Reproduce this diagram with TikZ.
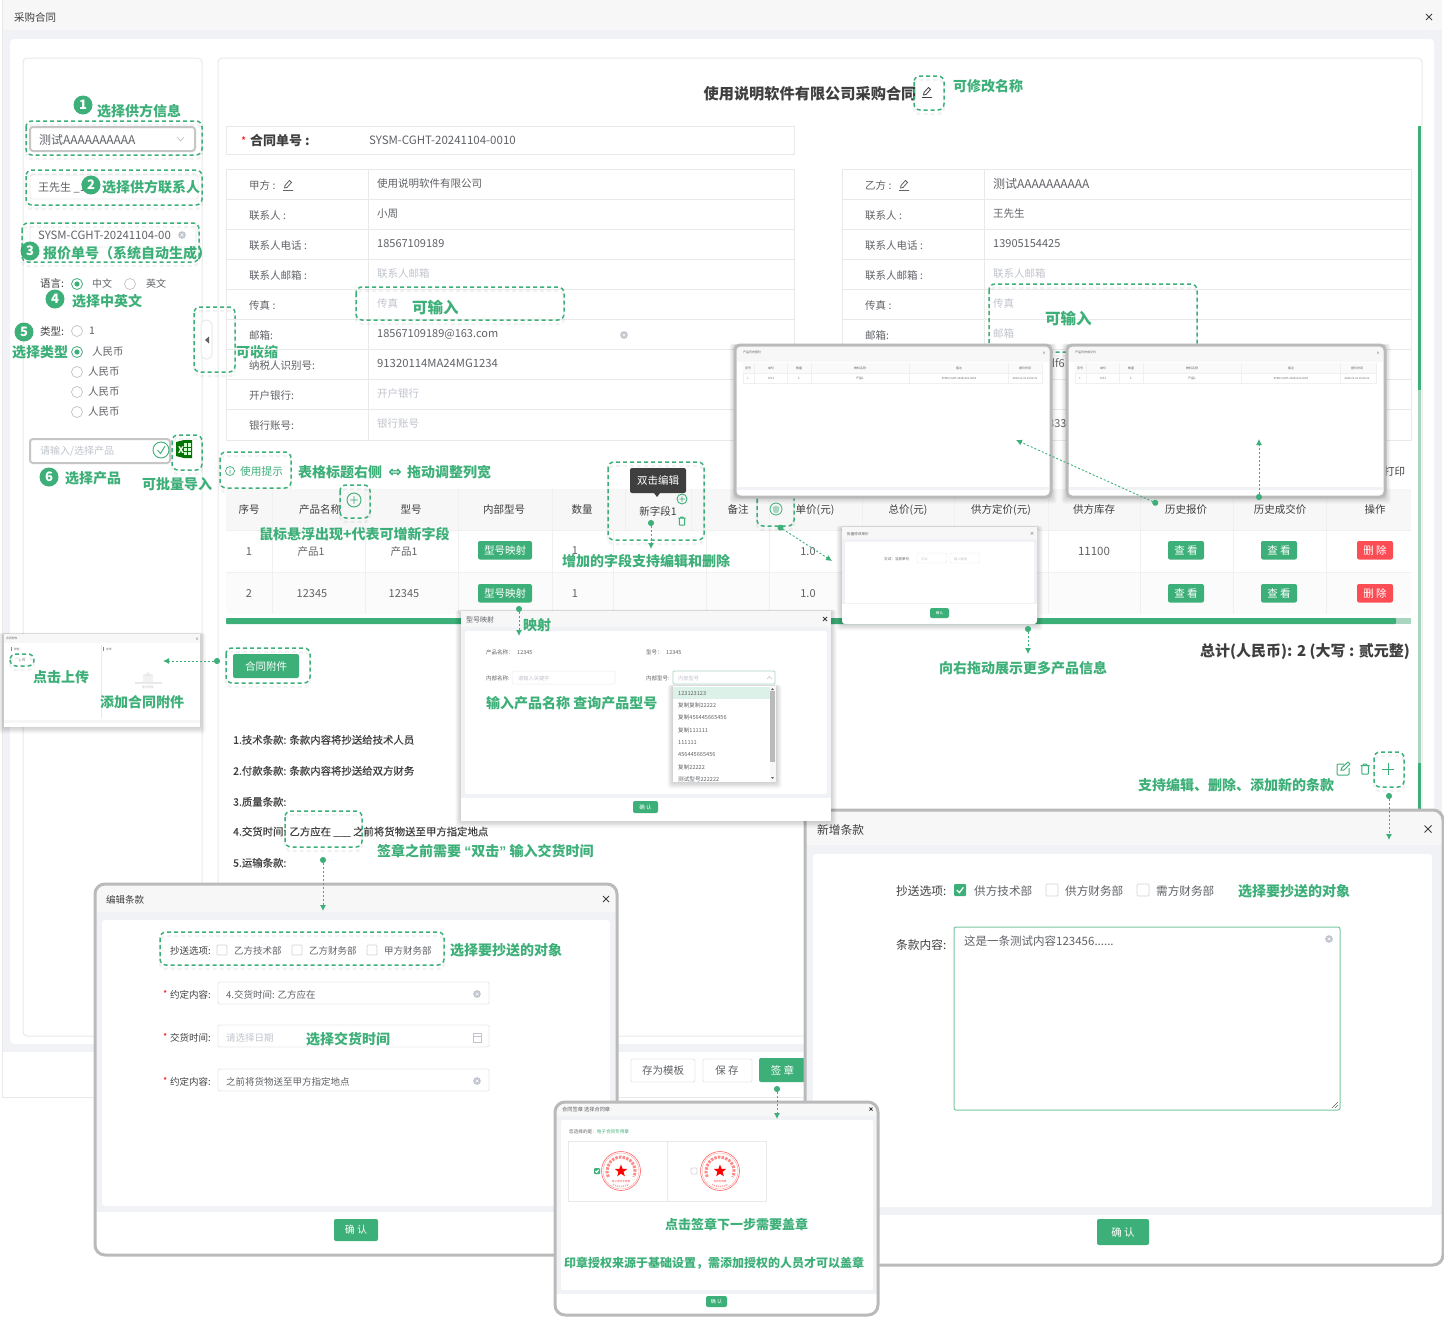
\documentclass[tikz,border=0pt]{standalone}
\usepackage{fontspec}
\setmainfont{Noto Sans CJK SC}
\newfontfamily\dejavu{DejaVu Sans}
\newfontfamily\libs{Liberation Sans}
\newfontfamily\semi[FakeBold=0.3]{Noto Sans CJK SC}
\usetikzlibrary{arrows.meta,shapes.geometric}
\definecolor{gn}{HTML}{3DAF78}
\definecolor{gnl}{HTML}{A9D6C0}
\definecolor{ln}{HTML}{E9E9E9}
\definecolor{hd}{HTML}{F7F7F7}
\definecolor{bgg}{HTML}{F0F2F5}
\definecolor{tx}{HTML}{606266}
\definecolor{dk}{HTML}{3F3F3F}
\definecolor{ph}{HTML}{C0C4CC}
\definecolor{frm}{HTML}{BABABA}
\definecolor{rdb}{HTML}{FC4D55}
\newcount\nn
\newcommand{\mkn}{\global\advance\nn by 1 }
\newcommand{\LT}[5]{\mkn\node[anchor=west,inner sep=0pt,yshift=-.8pt,text=#4,font=\fontsize{#3}{#3}\selectfont] (t\the\nn) at (#1,#2) {\vphantom{国}#5};}
\newcommand{\CT}[5]{\mkn\node[inner sep=0pt,yshift=-.8pt,text=#4,font=\fontsize{#3}{#3}\selectfont] (t\the\nn) at (#1,#2) {\vphantom{国}#5};}
\newcommand{\AN}[4]{\mkn\node[anchor=west,inner sep=0pt,yshift=-.8pt,text=gn,font=\fontsize{#3}{#3}\selectfont\bfseries] (t\the\nn) at (#1,#2) {\vphantom{国}#4};}
\newcommand{\BTN}[7]{\mkn\path[fill=#5,rounded corners=2pt] (#1,#2) rectangle (#3,#4) node[midway,inner sep=0pt,text=white,font=\fontsize{#6}{#6}\selectfont] (t\the\nn) {\vphantom{国}#7};}
\newcommand{\DBOX}[4]{%
 \draw[black,opacity=.05,line width=2.4pt,dash pattern=on 4pt off 3pt,rounded corners=6pt] (#1,#2+4) rectangle (#3,#4+4);
 \draw[dbx] (#1,#2) rectangle (#3,#4);}
\newcommand{\NUMC}[3]{\mkn\node[circle,fill=gn,text=white,inner sep=0pt,minimum size=19pt,font=\fontsize{13}{13}\selectfont\bfseries] (n\the\nn) at (#1,#2) {#3};}
\newcommand{\RADOFF}[2]{\draw[ln!80!black!90,line width=.7pt,fill=white] (#1,#2) circle[radius=5.5pt];}
\newcommand{\RADON}[2]{\draw[gn,line width=.8pt,fill=white] (#1,#2) circle[radius=5.5pt];\fill[gn] (#1,#2) circle[radius=2.6pt];}
\newcommand{\CB}[3]{\draw[ln!90!black,line width=.7pt,fill=white,rounded corners=1pt] (#1-#3/2,#2-#3/2) rectangle (#1+#3/2,#2+#3/2);}
\newcommand{\CBON}[3]{\fill[gn,rounded corners=1pt] (#1-#3/2,#2-#3/2) rectangle (#1+#3/2,#2+#3/2);
 \draw[white,line width=1.2pt] (#1-#3*.27,#2) -- (#1-#3*.05,#2+#3*.22) -- (#1+#3*.28,#2-#3*.22);}
\newcommand{\CLR}[2]{\fill[ph] (#1,#2) circle[radius=3.8pt];\draw[white,line width=.6pt] (#1-1.5,#2-1.5) -- (#1+1.5,#2+1.5) (#1-1.5,#2+1.5) -- (#1+1.5,#2-1.5);}
\newcommand{\CLS}[3]{\draw[dk,line width=1pt] (#1-#3,#2-#3) -- (#1+#3,#2+#3) (#1-#3,#2+#3) -- (#1+#3,#2-#3);}
\newcommand{\PEN}[3]{\draw[#3,line width=.8pt,line join=round] (#1-3.5,#2+3) -- (#1-3,#2+.5) -- (#1+1.5,#2-4.5) -- (#1+3.5,#2-2.5) -- (#1-1,#2+2.5) -- cycle (#1-5,#2+5.5) -- (#1+5,#2+5.5);}
\newcommand{\TRASH}[3]{\draw[gn,line width=1pt,rounded corners=.5pt] (#1-#3*.65,#2-#3*.7) -- (#1-#3*.65,#2+#3) -- (#1+#3*.65,#2+#3) -- (#1+#3*.65,#2-#3*.7) (#1-#3*.9,#2-#3*.7) -- (#1+#3*.9,#2-#3*.7) (#1-#3*.35,#2-#3*.7) -- (#1-#3*.35,#2-#3) -- (#1+#3*.35,#2-#3) -- (#1+#3*.35,#2-#3*.7);}
\newcommand{\PLC}[3]{\draw[gn,line width=.9pt] (#1,#2) circle[radius=#3pt] (#1-#3*.55,#2) -- (#1+#3*.55,#2) (#1,#2-#3*.55) -- (#1,#2+#3*.55);}
\newcommand{\SHD}[4]{\foreach \s in {1,2,3,4,5}{\fill[black,opacity=.035,rounded corners=3pt] (#1-\s*1.1,#2-\s*.3) rectangle (#3+\s*1.1,#4+\s*1.3);}}
\newcommand{\STAMP}[3]{%
 \draw[red!60,line width=.6pt] (#1,#2) circle[radius=19.5pt];
 \draw[red!45,line width=.3pt] (#1,#2) circle[radius=18pt];
 \draw[red!45,line width=3pt,dash pattern=on 2.5pt off 1.2pt] ({#1+14*cos(205)},{#2-14*sin(205)}) arc[start angle=205,end angle=-25,radius=14pt];
 \draw[red!35,line width=1.5pt,dash pattern=on 1pt off 1pt] ({#1+15.5*cos(240)},{#2-15.5*sin(240)}) arc[start angle=240,end angle=300,radius=15.5pt];
 \mkn\node[star,star points=5,star point ratio=2.4,fill=red,inner sep=0pt,minimum size=13pt] (st\the\nn) at (#1,#2) {};
 \CT{#1}{#2+10}{2.6}{red!70}{#3}}
\newcommand{\HIST}[4]{% x y width title
 \SHD{#1}{#2}{#1+#3}{#2+152}
 \begin{scope}[shift={(#1,#2)}]
 \fill[white,rounded corners=5pt] (0,0) rectangle (#3,152);
 \fill[hd] (2,2) rectangle (#3-2,14);
 \fill[bgg!60!white] (2,14) rectangle (#3-2,17);
 \fill[bgg] (2,142) rectangle (#3-2,145);
 \LT{8}{7}{3}{tx}{#4}
 \CT{#3-7}{7}{3.5}{dk}{×}
 \draw[ln!70!white,line width=.4pt,fill=white] (8,18) rectangle (#3-9,38);
 \fill[hd!60!white] (8.3,18.3) rectangle (#3-9.3,28);
 \draw[ln!70!white,line width=.4pt] (8,28) -- (#3-9,28) (19,18) -- (19,38) (52,18) -- (52,38) (76,18) -- (76,38) (174,18) -- (174,38) (273,18) -- (273,38);
 \CT{13}{23}{3}{tx}{序号}\CT{36}{23}{3}{tx}{单价}\CT{64}{23}{3}{tx}{数量}\CT{125}{23}{3}{tx}{物料名称}\CT{224}{23}{3}{tx}{备注}\CT{290}{23}{3}{tx}{报价时间}
 \CT{13}{33}{3}{tx!70}{1}\CT{36}{33}{3}{tx}{0.01}\CT{64}{33}{3}{tx}{1}\CT{125}{33}{3}{tx}{产品1}\CT{224}{33}{2.7}{tx}{SYSM-CGHT-20241101-0003}\CT{290}{33}{2.7}{tx}{2024-11-01 10:02:21}
 \draw[frm,line width=3pt,rounded corners=5pt] (0,0) rectangle (#3,152);
 \end{scope}}
\tikzset{
 dbx/.style={draw=gn,line width=1.5pt,dash pattern=on 4pt off 3pt,rounded corners=6pt},
 conn/.style={gn,line width=.9pt,dash pattern=on 2pt off 2pt,{Circle[length=6pt,width=6pt,sep=0pt]}-{Latex[length=6pt,width=6pt]}},
 tb/.style={draw=ln,line width=1pt},
 inp/.style={draw=ln,line width=.9pt,fill=white,rounded corners=2pt},
 inpb/.style={draw=ln!85!black,line width=2pt,fill=white,rounded corners=3pt},
 win/.style={draw=frm,line width=3pt,rounded corners=10pt},
}
\begin{document}
\begin{tikzpicture}[x=1pt,y=-1pt]
\useasboundingbox (0,0) rectangle (1444,1317);
\fill[white] (0,0) rectangle (1444,1317);
% page
\fill[bgg] (2,0) rectangle (1442,1052);
\fill[hd] (2,0) rectangle (1442,30);
\fill[white] (2,1052) rectangle (1442,1097);
\draw[ln,line width=.7pt] (2,0) -- (2,1097) -- (804,1097);
\LT{14}{17}{10.5}{dk}{采购合同}
\CLS{1429}{17}{3}
\fill[white,rounded corners=4pt] (10,39) rectangle (1434,1044);
% panels
\draw[tb,rounded corners=4pt] (23,58) rectangle (202,1036);
\draw[tb,rounded corners=4pt] (218,58) rectangle (1422,1036);
% scrollbar on right
\fill[gnl] (1418,126) rectangle (1421,810);
\fill[gn] (1418,126) rectangle (1421,390);
\fill[gn] (1418,763) rectangle (1421,810);

% ---- left column
\NUMC{83}{105}{1}
\AN{97}{110}{14}{选择供方信息}
\draw[inpb] (30,127) rectangle (195,151);
\LT{39}{139}{12}{tx}{测试AAAAAAAAAA}
\draw[ph,line width=.7pt] (177,137) -- (180.5,141) -- (184,137);
\DBOX{26}{121}{202}{155}
\draw[inp] (30,175) rectangle (198,199);
\LT{38}{187}{11}{tx}{王先生 \_1}
\NUMC{91}{185}{2}
\AN{102}{186}{14}{选择供方联系人}
\DBOX{26}{170}{202}{205}
\draw[inp] (30,223) rectangle (196,247);
\LT{38}{235}{11.4}{tx}{SYSM-CGHT-20241104-00}
\CLR{182}{235}
\NUMC{30}{251}{3}
\AN{43}{252}{14}{报价单号（系统自动生成）}
\DBOX{22}{223}{199}{262}
\LT{40}{283}{10.5}{dk}{语言:}
\RADON{77}{284}\LT{92}{283}{10}{tx}{中文}
\RADOFF{130}{284}\LT{146}{283}{10}{tx}{英文}
\NUMC{55}{299}{4}
\AN{72}{300}{14}{选择中英文}
\NUMC{24}{332}{5}
\LT{40}{331}{10.5}{dk}{类型:}
\RADOFF{77}{331}\LT{89}{330}{10.5}{tx}{1}
\AN{12}{351}{14}{选择类型}
\RADON{77}{352}\LT{92}{351}{10.5}{tx}{人民币}
\RADOFF{77}{372}\LT{88}{371}{10.5}{tx}{人民币}
\RADOFF{77}{392}\LT{88}{391}{10.5}{tx}{人民币}
\RADOFF{77}{412}\LT{88}{411}{10.5}{tx}{人民币}
\draw[inpb] (30,439) rectangle (170,463);
\LT{40}{450}{10}{ph}{请输入/选择产品}
\draw[gn,fill=white,line width=.9pt] (161,450) circle[radius=8pt];
\draw[gn,line width=.9pt] (157.5,450) -- (160.5,453.5) -- (165,446);
% excel icon
\fill[green!45!black] (176,442) -- (184,440) -- (192,440) -- (192,458) -- (184,458) -- (176,456) -- cycle;
\fill[white!80!green] (184,443) rectangle (191,455);
\draw[green!45!black,line width=.5pt] (187.5,443) -- (187.5,455) (184,447) -- (191,447) (184,451) -- (191,451);
\CT{181}{449}{9}{white}{\bfseries X}
\DBOX{172}{435}{202}{470}
\NUMC{49}{477}{6}
\AN{65}{477}{14}{选择产品}
\AN{142}{483}{14}{可批量导入}
% collapse tab
\draw[ln,line width=1pt,fill=white,rounded corners=5pt] (201,320) rectangle (212,359);
\fill[tx] (205,340) -- (209,336.5) -- (209,343.5) -- cycle;
\DBOX{194}{307}{235}{372}
\AN{236}{351}{14}{可收缩}

% ---- title
\CT{810}{93}{15.2}{dk}{\bfseries 使用说明软件有限公司采购合同}
\PEN{927}{92}{dk}
\DBOX{914}{76}{944}{110}
\AN{953}{85}{14}{可修改名称}
% contract no
\draw[tb] (226,126) rectangle (794,154);
\LT{241}{141}{11}{red}{*}
\LT{250}{140}{13}{dk}{\bfseries 合同单号 :}
\LT{369}{140}{11.5}{tx}{SYSM-CGHT-20241104-0010}
% party tables
\foreach \xa/\xb/\xc in {226/794/368,842/1411/984}{
 \draw[tb] (\xa,169) rectangle (\xb,440);
 \draw[tb] (\xc,169) -- (\xc,440);
 \foreach \yy in {199,229,259,289,319,349,379,409}{\draw[tb] (\xa,\yy) -- (\xb,\yy);}
}
\LT{249}{185}{10.5}{tx}{甲方 :}\PEN{288}{185}{tx}
\LT{249}{215}{10.5}{tx}{联系人 :}
\LT{249}{245}{10.5}{tx}{联系人电话 :}
\LT{249}{275}{10.5}{tx}{联系人邮箱 :}
\LT{249}{305}{10.5}{tx}{传真 :}
\LT{249}{335}{10.5}{tx}{邮箱:}
\LT{249}{365}{10.5}{tx}{纳税人识别号:}
\LT{249}{395}{10.5}{tx}{开户银行:}
\LT{249}{425}{10.5}{tx}{银行账号:}
\LT{377}{183}{10.5}{tx}{使用说明软件有限公司}
\LT{377}{213}{10.5}{tx}{小周}
\LT{377}{243}{11}{tx}{18567109189}
\LT{377}{273}{10.5}{ph}{联系人邮箱}
\LT{377}{303}{10.5}{ph}{传真}
\LT{377}{333}{11}{tx}{18567109189@163.com}
\CLR{624}{335}
\LT{377}{363}{11.3}{tx}{91320114MA24MG1234}
\LT{377}{393}{10.5}{ph}{开户银行}
\LT{377}{423}{10.5}{ph}{银行账号}
\LT{865}{185}{10.5}{tx}{乙方 :}\PEN{904}{185}{tx}
\LT{865}{215}{10.5}{tx}{联系人 :}
\LT{865}{245}{10.5}{tx}{联系人电话 :}
\LT{865}{275}{10.5}{tx}{联系人邮箱 :}
\LT{865}{305}{10.5}{tx}{传真 :}
\LT{865}{335}{10.5}{tx}{邮箱:}
\LT{993}{183}{12}{tx}{测试AAAAAAAAAA}
\LT{993}{213}{10.5}{tx}{王先生}
\LT{993}{243}{11}{tx}{13905154425}
\LT{993}{273}{10.5}{ph}{联系人邮箱}
\LT{993}{303}{10.5}{ph}{传真}
\LT{993}{333}{10.5}{ph}{邮箱}
\LT{1048}{363}{11}{tx}{df6}
\LT{1048}{423}{11}{tx}{333}
\DBOX{356}{287}{564}{320}
\AN{412}{307}{15.5}{可输入}
\DBOX{989}{284}{1197}{352}
\AN{1045}{318}{15.5}{可输入}

% ---- product table
\DBOX{220}{452}{291}{488}
\draw[gn,line width=.7pt] (230,471) circle[radius=4.5pt] (230,470) -- (230,473.5);
\fill[gn] (230,468.3) circle[radius=.5pt];
\LT{240}{471}{10.7}{gn}{使用提示}
\AN{298}{471}{14}{表格标题右侧\hspace{3pt} {\dejavu\fontsize{16}{16}\selectfont ⇔} \hspace{2pt}拖动调整列宽}
\LT{1384}{471}{10.5}{dk}{打印}
\fill[hd] (226,489) rectangle (1411,530);
\fill[hd!55!white] (226,572) rectangle (1411,614);
\foreach \xx in {272,365,458,552,769,862,954,1048,1140,1233,1326}{\draw[ln!70!white,line width=.7pt] (\xx,489) -- (\xx,614);}
\draw[ln!70!white,line width=.7pt] (613,530) -- (613,614) (706,530) -- (706,614) (625,489) -- (625,530) (691,489) -- (691,530);
\draw[ln!70!white,line width=.7pt] (226,530) -- (1411,530) (226,572) -- (1411,572);
\CT{249}{509}{10.5}{dk}{序号}
\CT{320}{509}{10.5}{dk}{产品名称}
\CT{411}{509}{10.5}{dk}{型号}
\CT{504}{509}{10.5}{dk}{内部型号}
\CT{582}{509}{10.5}{dk}{数量}
\CT{658}{511}{10.5}{dk}{新字段1}
\CT{738}{509}{10.5}{dk}{备注}
\CT{815}{509}{10.5}{dk}{单价(元)}
\CT{908}{509}{10.5}{dk}{总价(元)}
\CT{1001}{509}{10.5}{dk}{供方定价(元)}
\CT{1094}{509}{10.5}{dk}{供方库存}
\CT{1186}{509}{10.5}{dk}{历史报价}
\CT{1280}{509}{10.5}{dk}{历史成交价}
\CT{1375}{509}{10.5}{dk}{操作}
\CT{249}{551}{11}{tx}{1}
\CT{311}{551}{10.5}{tx}{产品1}
\CT{404}{551}{10.5}{tx}{产品1}
\CT{575}{550}{11}{tx}{1}
\CT{808}{551}{11}{tx}{1.0}
\CT{1094}{551}{11.5}{tx}{11100}
\CT{249}{593}{11}{tx}{2}
\CT{312}{593}{11}{tx}{12345}
\CT{404}{593}{11}{tx}{12345}
\CT{575}{593}{11}{tx}{1}
\CT{808}{593}{11}{tx}{1.0}
\foreach \yy in {541,584}{
 \BTN{478}{\yy}{532}{\yy+18.5}{gn}{10.5}{型号映射}
 \BTN{1168}{\yy}{1204}{\yy+18.5}{gn}{10.5}{查 看}
 \BTN{1261}{\yy}{1297}{\yy+18.5}{gn}{10.5}{查 看}
 \BTN{1357}{\yy}{1393}{\yy+18.5}{rdb}{10.5}{删 除}
}
\fill[gnl] (226,618) rectangle (1411,624);
\fill[gn,rounded corners=1pt] (226,618) rectangle (1396,624);
% table annotations
\PLC{354}{500}{7}
\DBOX{340}{485}{370}{518}
\AN{259}{533}{14}{鼠标悬浮出现+代表可增新字段}
\BTN{630}{468}{686}{493}{dk}{10.5}{双击编辑}
\fill[dk] (654,493) -- (660,493) -- (657,497) -- cycle;
\PLC{682}{499}{5}
\TRASH{682}{521}{4}
\DBOX{608}{462}{704}{540}
\AN{562}{560}{14}{增加的字段支持编辑和删除}
\draw[gn,line width=.8pt] (776,509) circle[radius=6pt];
\fill[gnl] (776,505.5) -- (779.5,507) -- (778.5,512) -- (776,513.5) -- (773.5,512) -- (772.5,507) -- cycle;
\DBOX{757}{493}{794}{526}
% totals etc.
\LT{1200}{651}{15}{dk}{\bfseries 总计(人民币): 2 (大写 : 贰元整)}
\AN{939}{667}{14}{向右拖动展示更多产品信息}
\BTN{233}{654}{299}{678}{gn}{10.5}{合同附件}
\DBOX{226}{648}{310}{683}
\LT{233}{739}{10.4}{dk}{\semi 1.技术条款: 条款内容将抄送给技术人员}
\LT{233}{770}{10.4}{dk}{\semi 2.付款条款: 条款内容将抄送给双方财务}
\LT{233}{801}{10.4}{dk}{\semi 3.质量条款:}
\LT{233}{831}{10.4}{dk}{\semi 4.交货时间: 乙方应在 \_\_\_ 之前将货物送至甲方指定地点}
\LT{233}{862}{10.4}{dk}{\semi 5.运输条款:}
\DBOX{285}{811}{362}{847}
\AN{377}{850}{14}{签章之前需要 {\libs\bfseries “}双击{\libs\bfseries ”} 输入交货时间}
% clause icons
\draw[gn,line width=1pt,rounded corners=1pt] (1344,764) -- (1337,764) -- (1337,775) -- (1349,775) -- (1349,768);
\draw[gn,line width=1pt] (1341,770) -- (1342,767.5) -- (1348,762) -- (1350,764) -- (1344,770) -- cycle;
\TRASH{1365}{769}{5}
\draw[gn,line width=1pt] (1382,769) -- (1394,769) (1388,763) -- (1388,775);
\DBOX{1374}{752}{1404}{787}
\AN{1138}{784}{14}{支持编辑、删除、添加新的条款}
% bottom buttons
\draw[inp] (631,1059) rectangle (695,1082);
\CT{663}{1070}{10.5}{tx}{存为模板}
\draw[inp] (703,1059) rectangle (752,1082);
\CT{727}{1070}{10.5}{tx}{保 存}
\BTN{759}{1058}{806}{1082}{gn}{10.5}{签 章}

% ---- history windows
\HIST{735}{345}{316}{产品历史报价}
\HIST{1067}{345}{318}{产品历史成交价}

% ---- batch window
\SHD{842}{527}{1037}{624}
\fill[white,rounded corners=3pt] (842,527) rectangle (1037,624);
\fill[hd] (842,527) rectangle (1037,539);
\fill[bgg] (842,539) rectangle (1037,604);
\fill[white,rounded corners=1pt] (845,542) rectangle (1034,603);
\LT{847}{533}{3.6}{tx}{批量修改单价}
\CT{1032}{533}{4.5}{dk}{×}
\LT{884}{558}{3.6}{tx}{交试：当前单价}
\draw[inp,line width=.4pt] (917,553) rectangle (947,563);
\LT{921}{558}{3.2}{ph}{交试}
\draw[inp,line width=.4pt] (950,553) rectangle (980,563);
\LT{954}{558}{3.2}{ph}{输入数值}
\BTN{930}{608}{949}{618}{gn}{3.6}{确认}

% ---- attachment window
\SHD{4}{634}{200}{727}
\fill[white] (4,634) rectangle (200,727);
\fill[hd] (4,634) rectangle (200,643);
\fill[bgg!70!white] (4,720) rectangle (200,723);
\LT{6}{638}{2.8}{tx}{合同附件}
\CT{197}{638}{3.5}{dk}{×}
\fill[gn] (11,647) rectangle (12,651);\LT{14}{649}{2.8}{tx}{附件}
\fill[gn] (103,647) rectangle (104,651);\LT{106}{649}{2.8}{tx}{文件}
\draw[ln,line width=.5pt] (101,645) -- (101,718);
\CT{22}{660}{3}{tx}{上 传}
\fill[ln] (135,682) rectangle (162,684);
\fill[ln!60!white] (143,674) rectangle (153,682);
\fill[ln] (148,672) -- (152,676) -- (144,676) -- cycle;
\CT{148}{687}{3}{ph}{暂无附件}
\DBOX{10}{654}{34}{666}
\AN{33}{676}{14}{点击上传}
\AN{100}{701}{14}{添加合同附件}

% ---- new clause window
\fill[white,rounded corners=10pt] (805,810) rectangle (1443,1265);
\fill[hd,rounded corners=10pt] (805,810) rectangle (1443,845);
\fill[bgg] (805,840) rectangle (1443,1215);
\fill[hd] (806,825) rectangle (1442,845);
\fill[white,rounded corners=3pt] (813,854) rectangle (1432,1207);
\LT{817}{829}{11.7}{dk}{新增条款}
\CLS{1428}{829}{3.5}
\LT{896}{890}{11.7}{dk}{抄送选项:}
\CBON{960}{890}{12}
\LT{974}{890}{11.6}{tx}{供方技术部}
\CB{1052}{890}{12}
\LT{1065}{890}{11.6}{tx}{供方财务部}
\CB{1143}{890}{12}
\LT{1156}{890}{11.6}{tx}{需方财务部}
\AN{1238}{890}{14}{选择要抄送的对象}
\LT{896}{944}{11.7}{dk}{条款内容:}
\draw[gn!70!white,line width=1pt,fill=white,rounded corners=2pt] (954,927) rectangle (1340,1110);
\LT{964}{940}{11.5}{tx}{这是一条测试内容123456......}
\CLR{1329}{939}
\draw[tx,line width=.5pt] (1332,1108) -- (1338,1102) (1335,1108) -- (1338,1105);
\BTN{1097}{1219}{1149}{1245}{gn}{10.5}{确 认}
\draw[win] (805,810) rectangle (1443,1265);

% ---- mapping window
\SHD{461}{611}{831}{821}
\fill[white] (461,611) rectangle (831,821);
\fill[hd] (461,611) rectangle (831,627);
\fill[bgg] (461,627) rectangle (831,798);
\fill[white,rounded corners=2pt] (465,631) rectangle (827,794);
\LT{466}{619}{7}{tx}{型号映射}
\CLS{825}{619}{2}
\LT{486}{652}{5.5}{tx}{产品名称：}
\LT{517}{652}{5.5}{tx}{12345}
\LT{646}{652}{5.5}{tx}{型号：}
\LT{666}{652}{5.5}{tx}{12345}
\LT{486}{678}{5.5}{tx}{内部名称:}
\draw[inp,line width=.5pt] (512,671) rectangle (615,684);
\LT{518}{678}{5.2}{ph}{请输入关键字}
\LT{646}{678}{5.5}{tx}{内部型号:}
\draw[gnl,line width=.8pt,fill=white,rounded corners=1pt] (673,671) rectangle (775,684);
\LT{678}{678}{5.2}{ph}{内部型号}
\draw[ph,line width=.4pt] (767,679) -- (769.5,676.5) -- (772,679);
\AN{486}{702}{14}{输入产品名称 查询产品型号}
\SHD{673}{686}{776}{782}
\fill[white] (673,686) rectangle (776,782);
\fill[gn!18!white] (673,687) rectangle (770,699);
\foreach \yy/\st in {692.5/123123123,705/复制复制22222,717/复制456445665456,730/复制111111,742/111111,754/456445665456,766.5/复制22222,779/测试型号222222}{
 \LT{678}{\yy}{5.6}{tx}{\st}}
\fill[hd] (770,686) rectangle (776,782);
\fill[frm] (770,691) rectangle (775,762);
\fill[tx] (771,690) -- (774,690) -- (772.5,688) -- cycle;
\fill[tx] (771,777) -- (774,777) -- (772.5,779) -- cycle;
\BTN{633}{801}{658}{813}{gn}{5.5}{确 认}
\AN{523}{624}{14}{映射}

% ---- edit clause window
\fill[white,rounded corners=10pt] (95,884) rectangle (617,1255);
\fill[hd,rounded corners=10pt] (95,884) rectangle (617,920);
\fill[bgg] (96,912) rectangle (616,1212);
\fill[white,rounded corners=3pt] (102,920) rectangle (610,1206);
\LT{106}{899}{9.5}{dk}{编辑条款}
\CLS{606}{899}{3}
\LT{170}{950}{9.5}{dk}{抄送选项:}
\CB{222}{950}{10}\LT{234}{950}{9.5}{tx}{乙方技术部}
\CB{297}{950}{10}\LT{309}{950}{9.5}{tx}{乙方财务部}
\CB{372}{950}{10}\LT{384}{950}{9.5}{tx}{甲方财务部}
\DBOX{160}{932}{444}{965}
\AN{450}{949}{14}{选择要抄送的对象}
\foreach \yy/\lb in {994/约定内容:,1037/交货时间:,1081/约定内容:}{
 \LT{163}{\yy-1}{9}{red}{*}
 \LT{170}{\yy}{9.5}{dk}{\lb}
 \draw[inp] (218,\yy-12) rectangle (489,\yy+10);
}
\LT{226}{994}{9.5}{tx}{4.交货时间: 乙方应在}
\CLR{477}{994}
\LT{226}{1037}{9.5}{ph}{请选择日期}
\AN{306}{1038}{14}{选择交货时间}
\draw[ph,line width=.7pt] (473,1033) rectangle (481,1042) (473,1036) -- (481,1036);
\LT{226}{1081}{9.5}{tx}{之前将货物送至甲方指定地点}
\CLR{477}{1081}
\BTN{334}{1219}{378}{1241}{gn}{10}{确 认}
\draw[win] (95,884) rectangle (617,1255);

% ---- sign window
\fill[white,rounded corners=9pt] (555,1102) rectangle (878,1315);
\fill[hd,rounded corners=9pt] (555,1102) rectangle (878,1122);
\fill[bgg] (556,1116) rectangle (877,1294);
\fill[white,rounded corners=2pt] (561,1120) rectangle (873,1290);
\LT{562}{1109}{5.2}{tx}{合同签章 选择合同章}
\CLS{871}{1109}{1.5}
\LT{569}{1131}{4.6}{tx}{您选择的是：{\color{gn}电子合同专用章}}
\draw[ln,line width=.5pt] (568,1141) rectangle (766,1201) (667,1141) -- (667,1201);
\CBON{597}{1171}{6}
\STAMP{621}{1171}{电子合同专用章}
\CB{694}{1171}{6}
\STAMP{720}{1171}{合同专用章}
\AN{665}{1224}{13}{点击签章下一步需要盖章}
\AN{564}{1262}{12}{印章授权来源于基础设置，需添加授权的人员才可以盖章}
\BTN{706}{1296}{727}{1307}{gn}{5}{确 认}
\draw[win] (555,1102) rectangle (878,1315);

% ---- connectors
\coordinate (a1) at (220,661);   \coordinate (b1) at (163,661);
\coordinate (a2) at (1158,504);  \coordinate (b2) at (1016,440);
\coordinate (a3) at (1259,500);  \coordinate (b3) at (1259,439);
\coordinate (a4) at (651,520);   \coordinate (b4) at (651,549);
\coordinate (a5) at (778,526);   \coordinate (b5) at (832,561);
\coordinate (a6) at (519,606);   \coordinate (b6) at (519,636);
\coordinate (a7) at (1028,626);  \coordinate (b7) at (1028,654);
\coordinate (a8) at (323,857);   \coordinate (b8) at (323,911);
\coordinate (a9) at (1389,793);  \coordinate (b9) at (1389,840);
\coordinate (a10) at (777,1086); \coordinate (b10) at (777,1119);
\foreach \i in {1,...,10}{\draw[conn] (a\i) -- (b\i);}
\end{tikzpicture}
\end{document}
